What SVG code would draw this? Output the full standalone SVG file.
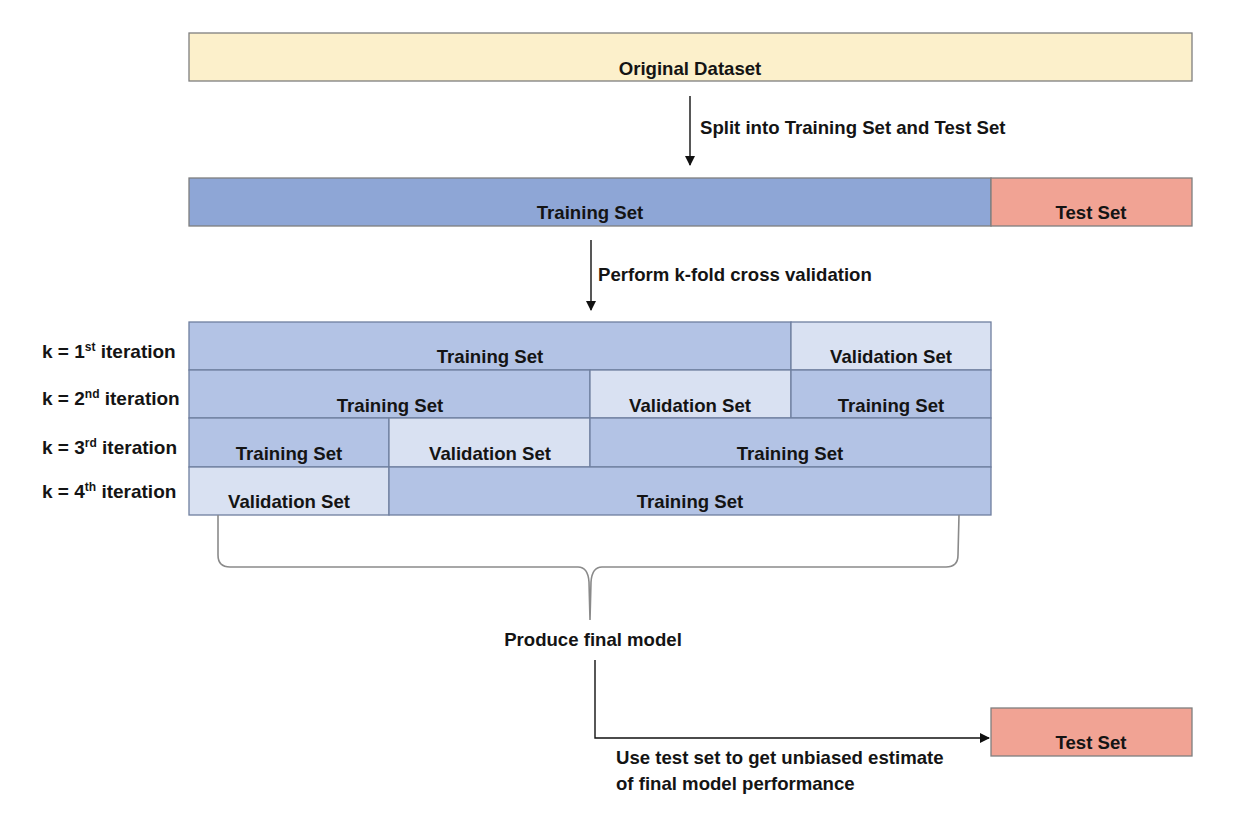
<svg xmlns="http://www.w3.org/2000/svg" width="1258" height="834" viewBox="0 0 1258 834">
<style>
text{font-family:"Liberation Sans",Arial,sans-serif;font-weight:bold;fill:#141414;font-size:18.6px}
.c{text-anchor:middle}
.k{font-size:19px}
.box{stroke:#7f7f7f;stroke-width:1.3}
.tr{fill:#b3c3e5;stroke:#6f7f9f;stroke-width:1.3}
.va{fill:#d9e1f2;stroke:#6f7f9f;stroke-width:1.3}
.ln{stroke:#111;stroke-width:1.4;fill:none}
.sup{font-size:12px}
</style>
<defs>
<marker id="ah" markerWidth="10" markerHeight="10" refX="9" refY="5" orient="auto" markerUnits="userSpaceOnUse">
<path d="M0,0 L10,5 L0,10 Z" fill="#111"/>
</marker>
</defs>
<rect width="1258" height="834" fill="#fff"/>

<g id="original">
<rect class="box" x="189" y="33" width="1003" height="48" fill="#fcf0cb"/>
<text class="c" x="690" y="75">Original Dataset</text>
</g>

<g id="split-train">
<rect class="box" x="189" y="178" width="802" height="48" fill="#8ea6d6"/>
<text class="c" x="590" y="219">Training Set</text>
</g>
<g id="split-test">
<rect class="box" x="991" y="178" width="201" height="48" fill="#f1a394"/>
<text class="c" x="1091" y="219">Test Set</text>
</g>

<g id="row1">
<rect class="tr" x="189" y="322" width="602" height="48"/>
<rect class="va" x="791" y="322" width="200" height="48"/>
<text class="c" x="490" y="363">Training Set</text>
<text class="c" x="891" y="363">Validation Set</text>
</g>
<g id="row2">
<rect class="tr" x="189" y="370" width="401" height="48"/>
<rect class="va" x="590" y="370" width="201" height="48"/>
<rect class="tr" x="791" y="370" width="200" height="48"/>
<text class="c" x="390" y="412">Training Set</text>
<text class="c" x="690" y="412">Validation Set</text>
<text class="c" x="891" y="412">Training Set</text>
</g>
<g id="row3">
<rect class="tr" x="189" y="418" width="200" height="49"/>
<rect class="va" x="389" y="418" width="201" height="49"/>
<rect class="tr" x="590" y="418" width="401" height="49"/>
<text class="c" x="289" y="460">Training Set</text>
<text class="c" x="490" y="460">Validation Set</text>
<text class="c" x="790" y="460">Training Set</text>
</g>
<g id="row4">
<rect class="va" x="189" y="467" width="200" height="48"/>
<rect class="tr" x="389" y="467" width="602" height="48"/>
<text class="c" x="289" y="508">Validation Set</text>
<text class="c" x="690" y="508">Training Set</text>
</g>

<g id="iteration-labels">
<text class="k" x="42" y="358">k = 1<tspan class="sup" dy="-7">st</tspan><tspan dy="7"> iteration</tspan></text>
<text class="k" x="42" y="405">k = 2<tspan class="sup" dy="-7">nd</tspan><tspan dy="7"> iteration</tspan></text>
<text class="k" x="42" y="454">k = 3<tspan class="sup" dy="-7">rd</tspan><tspan dy="7"> iteration</tspan></text>
<text class="k" x="42" y="498">k = 4<tspan class="sup" dy="-7">th</tspan><tspan dy="7"> iteration</tspan></text>
</g>

<g id="final-test">
<rect class="box" x="991" y="708" width="201" height="48" fill="#f1a394"/>
<text class="c" x="1091" y="749">Test Set</text>
</g>

<g id="connectors">
<line class="ln" x1="690" y1="96" x2="690" y2="165" marker-end="url(#ah)"/>
<line class="ln" x1="591" y1="240" x2="591" y2="310" marker-end="url(#ah)"/>
<path d="M218,515 L218,555 Q218,567 230,567 L578,567 Q588,567 589,582 L590,620 L591,582 Q592,567 602,567 L946,567 Q958,567 958,555 L959,515" stroke="#8a8a8a" stroke-width="1.6" fill="none"/>
<polyline class="ln" points="595,660 595,738 989,738" marker-end="url(#ah)"/>
</g>

<g id="labels">
<text x="700" y="134">Split into Training Set and Test Set</text>
<text x="598" y="281">Perform k-fold cross validation</text>
<text class="c" x="593" y="646">Produce final model</text>
<text x="616" y="764">Use test set to get unbiased estimate</text>
<text x="616" y="790">of final model performance</text>
</g>
</svg>
